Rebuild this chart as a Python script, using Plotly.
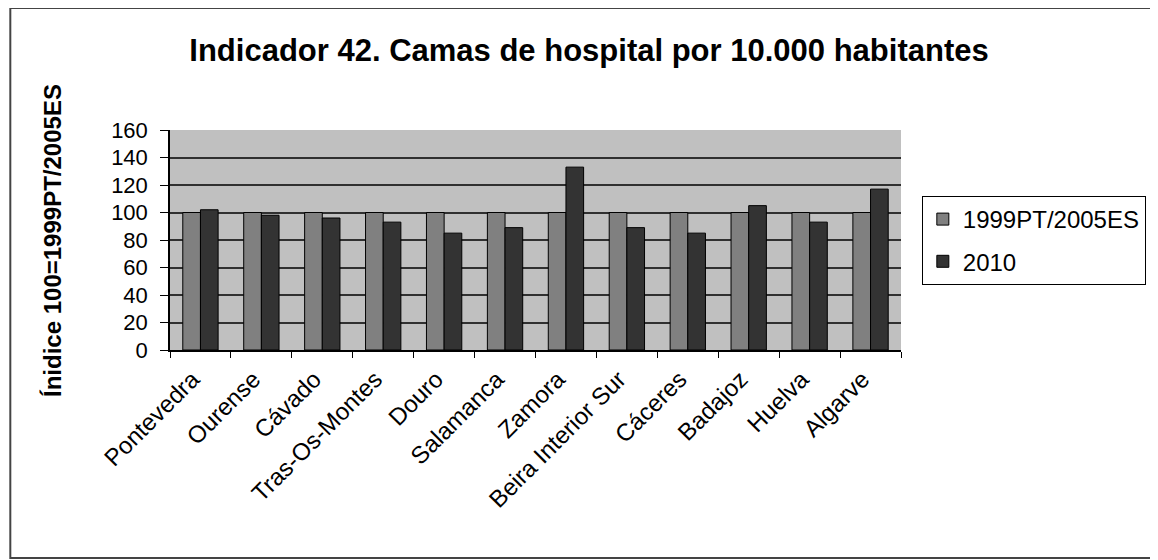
import plotly.graph_objects as go

categories = ["Pontevedra", "Ourense", "Cávado", "Tras-Os-Montes", "Douro", "Salamanca",
              "Zamora", "Beira Interior Sur", "Cáceres", "Badajoz", "Huelva", "Algarve"]
base_values = [100, 100, 100, 100, 100, 100, 100, 100, 100, 100, 100, 100]
values_2010 = [102, 98, 96, 93, 85, 89, 133, 89, 85, 105, 93, 117]
series_names = ["1999PT/2005ES", "2010"]
y_ticks = [0, 20, 40, 60, 80, 100, 120, 140, 160]

FONT = "Liberation Sans, Arial, sans-serif"

fig = go.Figure()
fig.add_trace(go.Bar(x=categories, y=base_values, name=series_names[0], legendgroup="a",
                     marker=dict(color="#808080", line=dict(color="#000000", width=1))))
fig.add_trace(go.Bar(x=categories, y=values_2010, name=series_names[1], legendgroup="b",
                     marker=dict(color="#333333", line=dict(color="#000000", width=1))))

# page body has an 8px margin; work in figure coordinates
W, H = 1150, 552
L, R, T, B = 162, 251, 122, 210
pw, ph = W - L - R, H - T - B

def px(x):
    return (x - L) / pw

def py(y):
    return (H - B - y) / ph

fig.update_layout(
    width=W, height=H,
    margin=dict(l=L, r=R, t=T, b=B),
    paper_bgcolor="white",
    plot_bgcolor="#c0c0c0",
    barmode="group",
    bargap=0.42,
    bargroupgap=0.0,
    font=dict(family=FONT, color="#000000", size=15),
    title=dict(text="<b>Indicador 42. Camas de hospital por 10.000 habitantes</b>",
               x=581 / W, xanchor="center", y=1 - 42 / H, yanchor="middle",
               font=dict(family=FONT, size=31, color="#000000")),
    legend=dict(x=px(920), y=py(188), xanchor="left", yanchor="top",
                bordercolor="#000000", borderwidth=1, bgcolor="white",
                font=dict(family=FONT, size=24, color="#000000"),
                itemwidth=30, traceorder="grouped", tracegroupgap=8),
    showlegend=True,
)

fig.update_xaxes(
    tickangle=-45, tickson="boundaries", ticks="outside", ticklen=6, tickcolor="#000",
    showline=True, linecolor="#000000", linewidth=1.5, mirror=False,
    tickfont=dict(family=FONT, size=24, color="#000000"),
    ticklabelshift=-8, ticklabelstandoff=4,
    showgrid=False,
)
fig.update_yaxes(
    range=[0, 160], tickvals=y_ticks, ticks="outside", ticklen=8, tickcolor="#000",
    showline=True, linecolor="#000000", linewidth=1.5,
    showgrid=True, gridcolor="#303030", gridwidth=1.5,
    tickfont=dict(family=FONT, size=22, color="#000000"),
    ticklabelstandoff=8,
    zeroline=False,
)

fig.add_annotation(text="<b>Ínidice 100=1999PT/2005ES</b>", textangle=-90,
                   xref="paper", yref="paper", x=px(43), y=0.5,
                   xanchor="center", yanchor="middle", showarrow=False,
                   font=dict(family=FONT, size=24, color="#000000"))

fig.add_shape(type="rect", xref="paper", yref="paper",
              x0=px(1), x1=px(1170), y0=py(550), y1=py(0),
              line=dict(color="#444444", width=2), fillcolor="rgba(0,0,0,0)", layer="below")

fig.write_html("out.html")
